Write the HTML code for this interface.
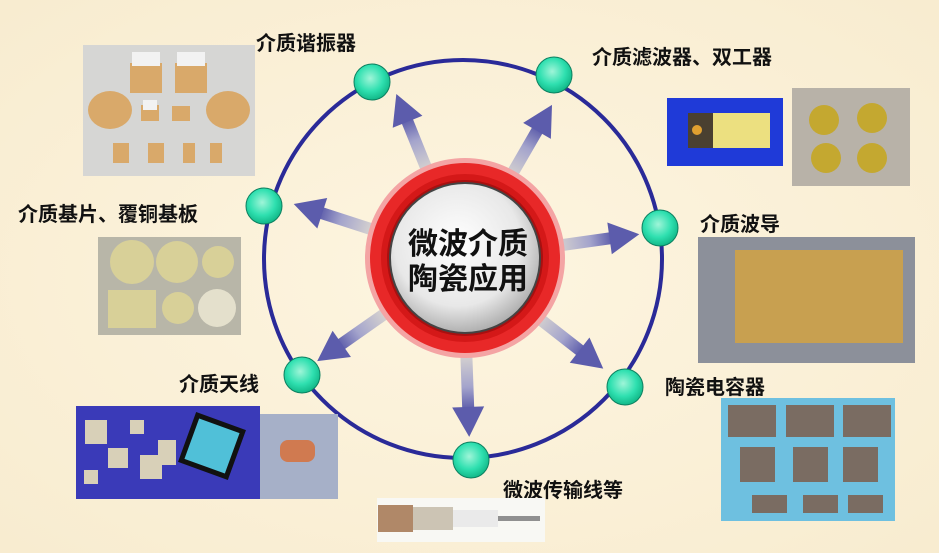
<!DOCTYPE html>
<html><head><meta charset="utf-8"><style>
html,body{margin:0;padding:0;}
body{width:939px;height:553px;overflow:hidden;background:#fbf0d6;}
svg{display:block}
text{font-family:"Liberation Sans","Noto Sans CJK SC",sans-serif;font-weight:bold;fill:#111;}
</style></head><body>
<svg width="939" height="553" viewBox="0 0 939 553">
<defs>
<radialGradient id="bg" cx="50%" cy="50%" r="70%"><stop offset="0" stop-color="#fdf5e0"/><stop offset="1" stop-color="#f8ecd0"/></radialGradient>
<radialGradient id="g" cx="45%" cy="40%" r="60%"><stop offset="0" stop-color="#9ff5d8"/><stop offset="0.6" stop-color="#2fe0b0"/><stop offset="1" stop-color="#12b888"/></radialGradient>
<radialGradient id="wh" cx="45%" cy="40%" r="60%"><stop offset="0" stop-color="#ffffff"/><stop offset="0.7" stop-color="#e8e8e8"/><stop offset="1" stop-color="#b0b0b0"/></radialGradient>
<linearGradient id="ar" x1="0" y1="0" x2="1" y2="0"><stop offset="0" stop-color="#dcd8d0"/><stop offset="0.6" stop-color="#a4a4cc"/><stop offset="1" stop-color="#5858a8"/></linearGradient>
<g id="arrow"><rect x="0" y="-6" width="60" height="12" fill="url(#ar)"/><polygon points="56,-16 86,0 56,16" fill="#5c5cac"/></g>
</defs>
<rect width="939" height="553" fill="url(#bg)"/>
<circle cx="463" cy="259" r="199" fill="none" stroke="#2a2a98" stroke-width="4"/>
<g transform="translate(463,259)">
<use href="#arrow" transform="rotate(-112) translate(92,0)"/>
<use href="#arrow" transform="rotate(-60) translate(92,0)"/>
<use href="#arrow" transform="rotate(-162) translate(92,0)"/>
<use href="#arrow" transform="rotate(-8) translate(92,0)"/>
<use href="#arrow" transform="rotate(145) translate(92,0)"/>
<use href="#arrow" transform="rotate(38) translate(92,0)"/>
<use href="#arrow" transform="rotate(88) translate(92,0)"/>
</g>
<circle cx="465" cy="258" r="100" fill="#f4a4a4"/>
<circle cx="465" cy="258" r="95" fill="#e82828"/>
<circle cx="465" cy="258" r="84" fill="#d41818"/>
<circle cx="465" cy="258" r="78" fill="#a81010"/>
<circle cx="465" cy="258" r="75" fill="url(#wh)" stroke="#444" stroke-width="2"/>
<text x="468" y="254" font-size="30" text-anchor="middle">微波介质</text>
<text x="468" y="289" font-size="30" text-anchor="middle">陶瓷应用</text>
<g fill="url(#g)" stroke="#0c8060" stroke-width="1">
<circle cx="372" cy="82" r="18"/><circle cx="554" cy="75" r="18"/>
<circle cx="264" cy="206" r="18"/><circle cx="660" cy="228" r="18"/>
<circle cx="302" cy="375" r="18"/><circle cx="625" cy="387" r="18"/>
<circle cx="471" cy="460" r="18"/>
</g>
<text x="256" y="50" font-size="20">介质谐振器</text>
<text x="592" y="64" font-size="20">介质滤波器、双工器</text>
<text x="18" y="221" font-size="20">介质基片、覆铜基板</text>
<text x="700" y="231" font-size="20">介质波导</text>
<text x="179" y="391" font-size="20">介质天线</text>
<text x="665" y="394" font-size="20">陶瓷电容器</text>
<text x="503" y="497" font-size="20">微波传输线等</text>
<rect x="83" y="45" width="172" height="131" fill="#d6d6d4"/>
<g fill="#d9a96a"><rect x="130" y="63" width="32" height="30"/><rect x="175" y="63" width="32" height="30"/>
<ellipse cx="110" cy="110" rx="22" ry="19"/><ellipse cx="228" cy="110" rx="22" ry="19"/>
<rect x="141" y="105" width="18" height="16"/><rect x="172" y="106" width="18" height="15"/>
<rect x="113" y="143" width="16" height="20"/><rect x="148" y="143" width="16" height="20"/><rect x="183" y="143" width="12" height="20"/><rect x="210" y="143" width="12" height="20"/></g>
<g fill="#f2f2f2"><rect x="132" y="52" width="28" height="14"/><rect x="177" y="52" width="28" height="14"/><rect x="143" y="100" width="14" height="10"/></g>
<rect x="98" y="237" width="143" height="98" fill="#b8b6a8"/>
<g fill="#d8d098"><circle cx="132" cy="262" r="22"/><circle cx="177" cy="262" r="21"/><circle cx="218" cy="262" r="16"/><rect x="108" y="290" width="48" height="38"/><circle cx="178" cy="308" r="16"/></g>
<circle cx="217" cy="308" r="19" fill="#e4e0cc"/>
<rect x="667" y="98" width="116" height="68" fill="#1f3ad8"/>
<rect x="688" y="113" width="25" height="35" fill="#4a4030"/><circle cx="697" cy="130" r="5" fill="#e0a030"/>
<rect x="713" y="113" width="57" height="35" fill="#ece080"/>
<rect x="792" y="88" width="118" height="98" fill="#b8b2a8"/>
<g fill="#c4a830"><circle cx="824" cy="120" r="15"/><circle cx="872" cy="118" r="15"/><circle cx="826" cy="158" r="15"/><circle cx="872" cy="158" r="15"/></g>
<rect x="698" y="237" width="217" height="126" fill="#8c909a"/>
<rect x="735" y="250" width="168" height="93" fill="#c8a050"/>
<rect x="721" y="398" width="174" height="123" fill="#6ec0e0"/>
<g fill="#7a6c62"><rect x="728" y="405" width="48" height="32"/><rect x="786" y="405" width="48" height="32"/><rect x="843" y="405" width="48" height="32"/>
<rect x="740" y="447" width="35" height="35"/><rect x="793" y="447" width="35" height="35"/><rect x="843" y="447" width="35" height="35"/>
<rect x="752" y="495" width="35" height="18"/><rect x="803" y="495" width="35" height="18"/><rect x="848" y="495" width="35" height="18"/></g>
<rect x="76" y="406" width="184" height="93" fill="#3a3ab8"/>
<rect x="260" y="414" width="78" height="85" fill="#a6b0c8"/>
<rect x="188" y="422" width="48" height="48" fill="#50c0d8" stroke="#111" stroke-width="5" transform="rotate(20 212 446)"/>
<g fill="#d8d0b8"><rect x="85" y="420" width="22" height="24"/><rect x="130" y="420" width="14" height="14"/><rect x="108" y="448" width="20" height="20"/><rect x="140" y="455" width="22" height="24"/><rect x="158" y="440" width="18" height="25"/><rect x="84" y="470" width="14" height="14"/></g>
<rect x="280" y="440" width="35" height="22" rx="8" fill="#d07a50"/>
<rect x="377" y="498" width="168" height="44" fill="#f8f8f4"/>
<rect x="378" y="505" width="35" height="27" fill="#b08868"/>
<rect x="413" y="507" width="40" height="23" fill="#ccc4b4"/>
<rect x="453" y="510" width="45" height="17" fill="#eaeaea"/>
<rect x="498" y="516" width="42" height="5" fill="#909090"/>
</svg>
</body></html>
